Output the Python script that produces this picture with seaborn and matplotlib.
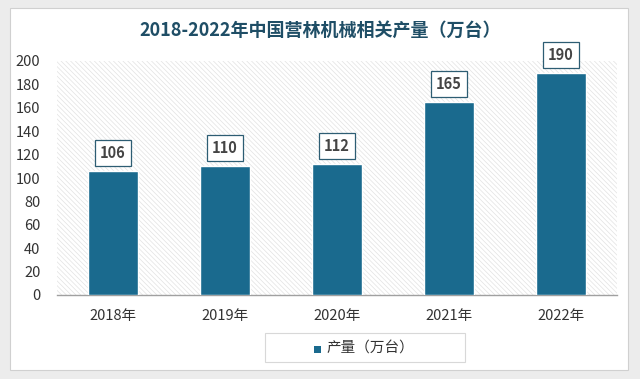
import matplotlib
matplotlib.use("Agg")
import matplotlib.pyplot as plt
import seaborn as sns
import pandas as pd
from matplotlib.patches import Rectangle

# data
years = ["2018年", "2019年", "2020年", "2021年", "2022年"]
output = [106, 110, 112, 165, 190]
series_name = "产量（万台）"
title = "2018-2022年中国营林机械相关产量（万台）"

bar_color = "#1a6a8e"
title_color = "#1f4e66"

sns.set_theme(style="white")
plt.rcParams["font.family"] = ["Noto Sans CJK SC", "DejaVu Sans"]
plt.rcParams["hatch.color"] = "#e2e2e2"
plt.rcParams["hatch.linewidth"] = 0.5

df = pd.DataFrame({"year": years, "value": output})

fig = plt.figure(figsize=(6.4, 3.79), dpi=100)
fig.patch.set_facecolor("#ececec")

# white card behind everything
card = Rectangle((10 / 640, 9 / 379), 618 / 640, 362 / 379,
                 transform=fig.transFigure, facecolor="white",
                 edgecolor="#d0d0d0", lw=0.8, zorder=-10)
fig.patches.append(card)

ax = fig.add_axes([57 / 640, 84 / 379, 560 / 640, 234 / 379])
ax.set_facecolor("white")
ax.patch.set_hatch("\\" * 7)
ax.patch.set_edgecolor("#e2e2e2")
ax.patch.set_linewidth(0)

sns.barplot(data=df, x="year", y="value", color=bar_color, width=0.44,
            saturation=1, ax=ax, zorder=3)

ax.set_ylim(0, 200)
ax.set_yticks(range(0, 201, 20))
ax.set_xlabel("")
ax.set_ylabel("")
ax.tick_params(axis="both", length=0, labelsize=10.5, colors="#333333")
ax.tick_params(axis="x", pad=10)
ax.tick_params(axis="y", pad=12)
for side in ["top", "right", "left"]:
    ax.spines[side].set_visible(False)
ax.spines["bottom"].set_color("#a0a0a0")
ax.spines["bottom"].set_linewidth(1.0)

# value labels in small boxes above the bars
for i, v in enumerate(output):
    ax.annotate(str(v), (i, v), xytext=(0, 13), textcoords="offset points",
                ha="center", va="center", fontsize=10.5, fontweight="bold",
                color="#444444", zorder=5,
                bbox=dict(boxstyle="square,pad=0.35", fc="white",
                          ec="#2d5d73", lw=0.9))

fig.text(0.5, 1 - 30 / 379, title, ha="center", va="center",
         fontsize=13, fontweight="bold", color=title_color)

# legend box
leg_box = Rectangle((265 / 640, 1 - 362 / 379), 200 / 640, 29 / 379,
                    transform=fig.transFigure, facecolor="white",
                    edgecolor="#d8d8d8", lw=0.8)
fig.patches.append(leg_box)
fig.patches.append(Rectangle((314 / 640, 1 - 353 / 379), 7 / 640, 7 / 379,
                             transform=fig.transFigure, facecolor=bar_color,
                             edgecolor="none"))
fig.text(326 / 640, 1 - 349 / 379, series_name, ha="left", va="center",
         fontsize=10.5, color="#333333")

fig.savefig("out.png", dpi=100)
